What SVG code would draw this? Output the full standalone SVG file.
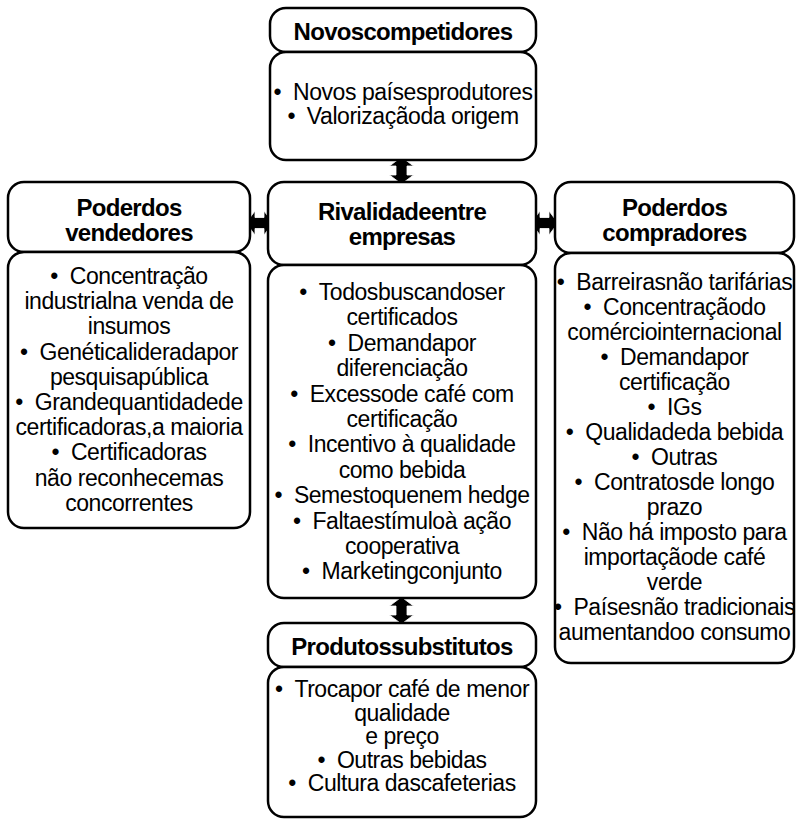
<svg xmlns="http://www.w3.org/2000/svg" width="797" height="823" viewBox="0 0 797 823">
  <style>
    .box { fill: #ffffff; stroke: #000000; stroke-width: 2.5; }
    .hd { font-family: "Liberation Sans", Arial, sans-serif; font-weight: bold; font-size: 24px; letter-spacing: -0.7px; text-anchor: middle; fill: #000000; }
    .tx { font-family: "Liberation Sans", Arial, sans-serif; font-size: 23px; letter-spacing: -0.45px; text-anchor: middle; fill: #000000; }
    .arrow { fill: #000000; stroke: #ffffff; stroke-width: 0.8; stroke-linejoin: miter; }
  </style>
  <rect x="0" y="0" width="797" height="823" fill="#ffffff"/>

  <!-- double-headed block arrows between the forces -->
  <g id="connectors">
    <polygon class="arrow" points="401.5,157 413.5,166 407,166 407,175 413.5,175 401.5,184 389.5,175 396,175 396,166 389.5,166"/>
    <polygon class="arrow" points="401.5,597 413.5,606 407,606 407,615 413.5,615 401.5,624 389.5,615 396,615 396,606 389.5,606"/>
    <polygon class="arrow" points="246,223 255,211 255,217.5 264,217.5 264,211 273,223 264,235 264,228.5 255,228.5 255,235"/>
    <polygon class="arrow" points="531,223 540,211 540,217.5 549,217.5 549,211 558,223 549,235 549,228.5 540,228.5 540,235"/>
  </g>

  <g id="novos-competidores">
    <rect class="box" x="270" y="8" width="266" height="44" rx="16"/>
    <rect class="box" x="270" y="52" width="266" height="108" rx="16"/>
    <text class="hd" x="403" y="40">Novoscompetidores</text>
    <text class="tx" x="403" y="100">•&#160;&#160;Novos paísesprodutores</text>
    <text class="tx" x="403" y="124">•&#160;&#160;Valorizaçãoda origem</text>
  </g>

  <g id="poder-vendedores">
    <rect class="box" x="8" y="182" width="242" height="70" rx="16"/>
    <rect class="box" x="8" y="252" width="242" height="276" rx="16"/>
    <text class="hd" x="129" y="216">Poderdos</text>
    <text class="hd" x="129" y="241">vendedores</text>
    <text class="tx" x="129" y="284">•&#160;&#160;Concentração</text>
    <text class="tx" x="129" y="309.2">industrialna venda de</text>
    <text class="tx" x="129" y="334.4">insumos</text>
    <text class="tx" x="129" y="359.6">•&#160;&#160;Genéticalideradapor</text>
    <text class="tx" x="129" y="384.8">pesquisapública</text>
    <text class="tx" x="129" y="410">•&#160;&#160;Grandequantidadede</text>
    <text class="tx" x="129" y="435.2">certificadoras,a maioria</text>
    <text class="tx" x="129" y="460.4">•&#160;&#160;Certificadoras</text>
    <text class="tx" x="129" y="485.6">não reconhecemas</text>
    <text class="tx" x="129" y="510.8">concorrentes</text>
  </g>

  <g id="rivalidade">
    <rect class="box" x="268" y="182" width="268" height="83" rx="16"/>
    <rect class="box" x="268" y="265" width="268" height="333" rx="16"/>
    <text class="hd" x="402" y="220">Rivalidadeentre</text>
    <text class="hd" x="402" y="245">empresas</text>
    <text class="tx" x="402" y="300">•&#160;&#160;Todosbuscandoser</text>
    <text class="tx" x="402" y="325.4">certificados</text>
    <text class="tx" x="402" y="350.8">•&#160;&#160;Demandapor</text>
    <text class="tx" x="402" y="376.2">diferenciação</text>
    <text class="tx" x="402" y="401.6">•&#160;&#160;Excessode café com</text>
    <text class="tx" x="402" y="427">certificação</text>
    <text class="tx" x="402" y="452.4">•&#160;&#160;Incentivo à qualidade</text>
    <text class="tx" x="402" y="477.8">como bebida</text>
    <text class="tx" x="402" y="503.2">•&#160;&#160;Semestoquenem hedge</text>
    <text class="tx" x="402" y="528.6">•&#160;&#160;Faltaestímuloà ação</text>
    <text class="tx" x="402" y="554">cooperativa</text>
    <text class="tx" x="402" y="579.4">•&#160;&#160;Marketingconjunto</text>
  </g>

  <g id="poder-compradores">
    <rect class="box" x="555" y="182" width="239" height="71" rx="16"/>
    <rect class="box" x="555" y="253" width="239" height="410" rx="16"/>
    <text class="hd" x="674.5" y="216">Poderdos</text>
    <text class="hd" x="674.5" y="241">compradores</text>
    <text class="tx" x="674.5" y="290">•&#160;&#160;Barreirasnão tarifárias</text>
    <text class="tx" x="674.5" y="315">•&#160;&#160;Concentraçãodo</text>
    <text class="tx" x="674.5" y="340">comérciointernacional</text>
    <text class="tx" x="674.5" y="365">•&#160;&#160;Demandapor</text>
    <text class="tx" x="674.5" y="390">certificação</text>
    <text class="tx" x="674.5" y="415">•&#160;&#160;IGs</text>
    <text class="tx" x="674.5" y="440">•&#160;&#160;Qualidadeda bebida</text>
    <text class="tx" x="674.5" y="465">•&#160;&#160;Outras</text>
    <text class="tx" x="674.5" y="490">•&#160;&#160;Contratosde longo</text>
    <text class="tx" x="674.5" y="515">prazo</text>
    <text class="tx" x="674.5" y="540">•&#160;&#160;Não há imposto para</text>
    <text class="tx" x="674.5" y="565">importaçãode café</text>
    <text class="tx" x="674.5" y="590">verde</text>
    <text class="tx" x="674.5" y="615">•&#160;&#160;Paísesnão tradicionais</text>
    <text class="tx" x="674.5" y="640">aumentandoo consumo</text>
  </g>

  <g id="produtos-substitutos">
    <rect class="box" x="268" y="623" width="268" height="44" rx="16"/>
    <rect class="box" x="268" y="667" width="268" height="150" rx="16"/>
    <text class="hd" x="402" y="655">Produtossubstitutos</text>
    <text class="tx" x="402" y="697">•&#160;&#160;Trocapor café de menor</text>
    <text class="tx" x="402" y="720.5">qualidade</text>
    <text class="tx" x="402" y="744">e preço</text>
    <text class="tx" x="402" y="767.5">•&#160;&#160;Outras bebidas</text>
    <text class="tx" x="402" y="791">•&#160;&#160;Cultura dascafeterias</text>
  </g>
</svg>
